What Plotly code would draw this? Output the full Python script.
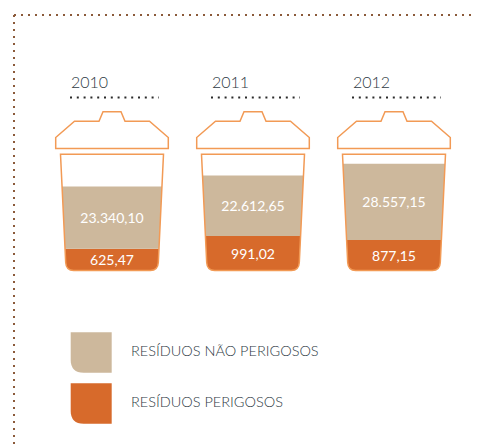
import plotly.graph_objects as go

# ---- data ----
years = ["2010", "2011", "2012"]
nao_perigosos = [23340.10, 22612.65, 28557.15]
perigosos = [625.47, 991.02, 877.15]
series_names = ["RESÍDUOS NÃO PERIGOSOS", "RESÍDUOS PERIGOSOS"]

# ---- style ----
BEIGE = "#CDB89C"
ORANGE = "#D76A2B"
OUTLINE = "#F29A55"
TEXT = "#2E3943"
BORDER = "#8B5A3A"
FONT = "Lato"

W, H = 477, 446
X0, DX = 112.0, 141.0          # pixel of category 0, pixels per category
BASE_PX = 270.5                # pixel row of the value 0
S1 = 0.0348                    # px per unit (perigosos)
S2 = 0.002671                  # px per unit (não perigosos)
BAR_PX = 103.0

xr = [-X0 / DX, (W - X0) / DX]
y_r0 = -(H - BASE_PX) / S1
y_range = [y_r0, y_r0 + H / S1]
y2_r0 = -(H - BASE_PX) / S2
y2_range = [y2_r0, y2_r0 + H / S2]


def fmt(v):
    s = f"{v:,.2f}"
    return s.replace(",", "X").replace(".", ",").replace("X", ".")


def P(x, y):
    return f"{x / W:.5f},{1 - y / H:.5f}"


xs = list(range(len(years)))
fig = go.Figure()
fig.add_trace(go.Bar(
    x=xs, y=perigosos, yaxis="y", width=BAR_PX / DX,
    marker=dict(color=ORANGE, line=dict(width=0)),
    text=[fmt(v) for v in perigosos], textposition="inside",
    insidetextanchor="middle", constraintext="none", textangle=0,
    textfont=dict(color="white", size=14, family=FONT),
    name=series_names[1], hoverinfo="skip"))
fig.add_trace(go.Bar(
    x=xs, y=nao_perigosos, yaxis="y2", width=BAR_PX / DX,
    base=[o * S1 / S2 for o in perigosos],
    marker=dict(color=BEIGE, line=dict(width=0)),
    text=[fmt(v) for v in nao_perigosos], textposition="inside",
    insidetextanchor="middle", constraintext="none", textangle=0,
    textfont=dict(color="white", size=14, family=FONT),
    name=series_names[0], hoverinfo="skip"))

shapes = []
annotations = []
for i, yr in enumerate(years):
    c = X0 + i * DX
    top, bot, r = 154.3, BASE_PX, 8.0
    ht, hb = 51.5, 46.3
    # white masks outside the cup body (tapered sides + rounded bottom)
    left = (f"M {P(c-54, 150)} L {P(c-ht, top)} L {P(c-hb, bot-r)} "
            f"Q {P(c-hb+0.4, bot)} {P(c-hb+r, bot)} L {P(c-hb+r, bot+4)} "
            f"L {P(c-54, bot+4)} Z")
    right = (f"M {P(c+54, 150)} L {P(c+ht, top)} L {P(c+hb, bot-r)} "
             f"Q {P(c+hb-0.4, bot)} {P(c+hb-r, bot)} L {P(c+hb-r, bot+4)} "
             f"L {P(c+54, bot+4)} Z")
    for pth in (left, right):
        shapes.append(dict(type="path", path=pth, xref="paper", yref="paper",
                           fillcolor="white", line=dict(width=0), layer="above"))
    body = (f"M {P(c-ht, top)} L {P(c+ht, top)} L {P(c+hb, bot-r)} "
            f"Q {P(c+hb-0.4, bot)} {P(c+hb-r, bot)} L {P(c-hb+r, bot)} "
            f"Q {P(c-hb+0.4, bot)} {P(c-hb, bot-r)} Z")
    shapes.append(dict(type="path", path=body, xref="paper", yref="paper",
                       line=dict(color=OUTLINE, width=1.5), layer="above"))
    lid = (f"M {P(c-56.3, 148.5)} L {P(c+56.3, 148.5)} L {P(c+56.3, 137.5)} "
           f"L {P(c+37.5, 121.3)} L {P(c+13, 121.3)} L {P(c+9, 111.8)} "
           f"L {P(c-9, 111.8)} L {P(c-13, 121.3)} L {P(c-37.5, 121.3)} "
           f"L {P(c-56.3, 137.5)} Z")
    shapes.append(dict(type="path", path=lid, xref="paper", yref="paper",
                       line=dict(color=OUTLINE, width=1.5), layer="above"))
    # dotted rule under the year
    shapes.append(dict(type="line", xref="paper", yref="paper",
                       x0=(c - 42) / W, x1=(c + 47) / W,
                       y0=1 - 97.5 / H, y1=1 - 97.5 / H,
                       line=dict(color="#2B2B2B", width=2, dash="2px,4.8px")))
    annotations.append(dict(x=i, xref="x", xshift=-43, xanchor="left",
                            y=1 - 82 / H, yref="paper", yanchor="middle",
                            text=yr, showarrow=False,
                            font=dict(family=FONT, size=16, color=TEXT,
                                      weight=300)))

# border (dotted, top + left)
shapes.append(dict(type="line", xref="paper", yref="paper",
                   x0=14 / W, x1=476 / W, y0=1 - 15 / H, y1=1 - 15 / H,
                   line=dict(color=BORDER, width=2, dash="2px,5px")))
shapes.append(dict(type="line", xref="paper", yref="paper",
                   x0=14 / W, x1=14 / W, y0=1 - 15 / H, y1=0,
                   line=dict(color=BORDER, width=2, dash="2px,5px")))

# legend
for k, (name, col) in enumerate(zip(series_names, [BEIGE, ORANGE])):
    x0, x1 = 70.7, 111.7
    y0 = 332.3 + k * 51.0
    y1 = y0 + 40.5
    rr = 13
    sw = (f"M {P(x0, y0)} L {P(x1, y0)} L {P(x1, y1)} L {P(x0 + rr, y1)} "
          f"Q {P(x0, y1)} {P(x0, y1 - rr)} Z")
    shapes.append(dict(type="path", path=sw, xref="paper", yref="paper",
                       fillcolor=col, line=dict(width=0)))
    annotations.append(dict(x=129 / W, xref="paper", xanchor="left",
                            y=1 - (y0 + 18.5) / H, yref="paper", yanchor="middle",
                            text=name, showarrow=False,
                            font=dict(family=FONT, size=14.5, color=TEXT,
                                      weight=300)))

fig.update_layout(
    width=W, height=H, autosize=False,
    margin=dict(l=0, r=0, t=0, b=0),
    paper_bgcolor="white", plot_bgcolor="white",
    barmode="overlay", showlegend=False,
    xaxis=dict(range=xr, visible=False, fixedrange=True),
    yaxis=dict(range=y_range, visible=False, fixedrange=True),
    yaxis2=dict(range=y2_range, visible=False, overlaying="y", fixedrange=True),
    shapes=shapes, annotations=annotations,
)
fig.write_html("out.html", config={"displayModeBar": False},
               post_script="document.body.style.margin='0';"
                           "document.body.style.overflow='hidden';")
